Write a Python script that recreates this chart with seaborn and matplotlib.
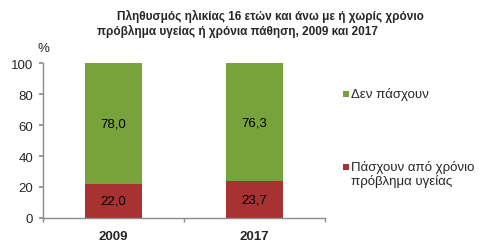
import matplotlib
matplotlib.use("Agg")
import matplotlib.pyplot as plt
import seaborn as sns
import pandas as pd
from matplotlib.patches import Rectangle

years = ["2009", "2017"]
with_problem = [22.0, 23.7]
without_problem = [78.0, 76.3]
series_labels = ["Δεν πάσχουν", "Πάσχουν από χρόνιο\nπρόβλημα υγείας"]
yticks = [0, 20, 40, 60, 80, 100]

GREEN = "#78A23A"
RED = "#A83232"
GRAY = "#8C8C8C"
FS = 9.5
W, H = 485, 251

sns.set_theme(style="white")
plt.rcParams["font.family"] = ["Liberation Sans", "DejaVu Sans"]

df = pd.DataFrame({"year": years, "with": with_problem, "without": without_problem})
df["total"] = df["with"] + df["without"]

fig = plt.figure(figsize=(4.85, 2.51), dpi=100)
ax = fig.add_axes([0.0887, 0.1275, 0.5815, 0.6175])

sns.barplot(data=df, x="year", y="total", color=GREEN, width=0.4, saturation=1, ax=ax, linewidth=0)
sns.barplot(data=df, x="year", y="with", color=RED, width=0.4, saturation=1, ax=ax, linewidth=0)

for i, (w, wo) in enumerate(zip(with_problem, without_problem)):
    ax.text(i, w / 2, f"{w:.1f}".replace(".", ","), ha="center", va="center", fontsize=FS, color="black")
    ax.text(i, w + wo / 2, f"{wo:.1f}".replace(".", ","), ha="center", va="center", fontsize=FS, color="black")

ax.set_xlim(-0.5, 1.5)
ax.set_ylim(0, 100)
ax.set_yticks(yticks)
ax.set_yticklabels([str(t) for t in yticks], fontsize=FS)
ax.set_xlabel("")
ax.set_ylabel("")
for lbl in ax.get_xticklabels():
    lbl.set_fontweight("bold")
    lbl.set_fontsize(FS)
ax.set_xticks([-0.5, 0.5, 1.5], minor=True)
ax.tick_params(axis="x", which="major", length=0, pad=9)
ax.tick_params(axis="x", which="minor", length=3, color=GRAY, direction="out", bottom=True)
ax.tick_params(axis="y", length=3, color=GRAY, direction="out", left=True, pad=4)

sns.despine(ax=ax)
for s in ["left", "bottom"]:
    ax.spines[s].set_color(GRAY)
    ax.spines[s].set_linewidth(1.0)

ax.text(0.0, 1.055, "%", transform=ax.transAxes, ha="center", va="bottom", fontsize=FS)

fig.text(117 / W, 1 - 16 / H, "Πληθυσμός ηλικίας 16 ετών και άνω με ή χωρίς χρόνιο",
         ha="left", va="center", fontsize=8.45, fontweight="bold")
fig.text(97 / W, 1 - 31 / H, "πρόβλημα υγείας ή χρόνια πάθηση, 2009 και 2017",
         ha="left", va="center", fontsize=8.45, fontweight="bold")

# legend (handle aligned with the first text line, as in the reference)
for color, label, ypix in zip([GREEN, RED], series_labels, [95, 168]):
    fig.add_artist(Rectangle((343 / W, 1 - (ypix + 3) / H), 6 / W, 6 / H,
                             transform=fig.transFigure, color=color, lw=0))
    fig.text(351 / W, 1 - (ypix - 7) / H, label, ha="left", va="top",
             fontsize=FS, linespacing=1.15)

fig.savefig("out.png", dpi=100)
